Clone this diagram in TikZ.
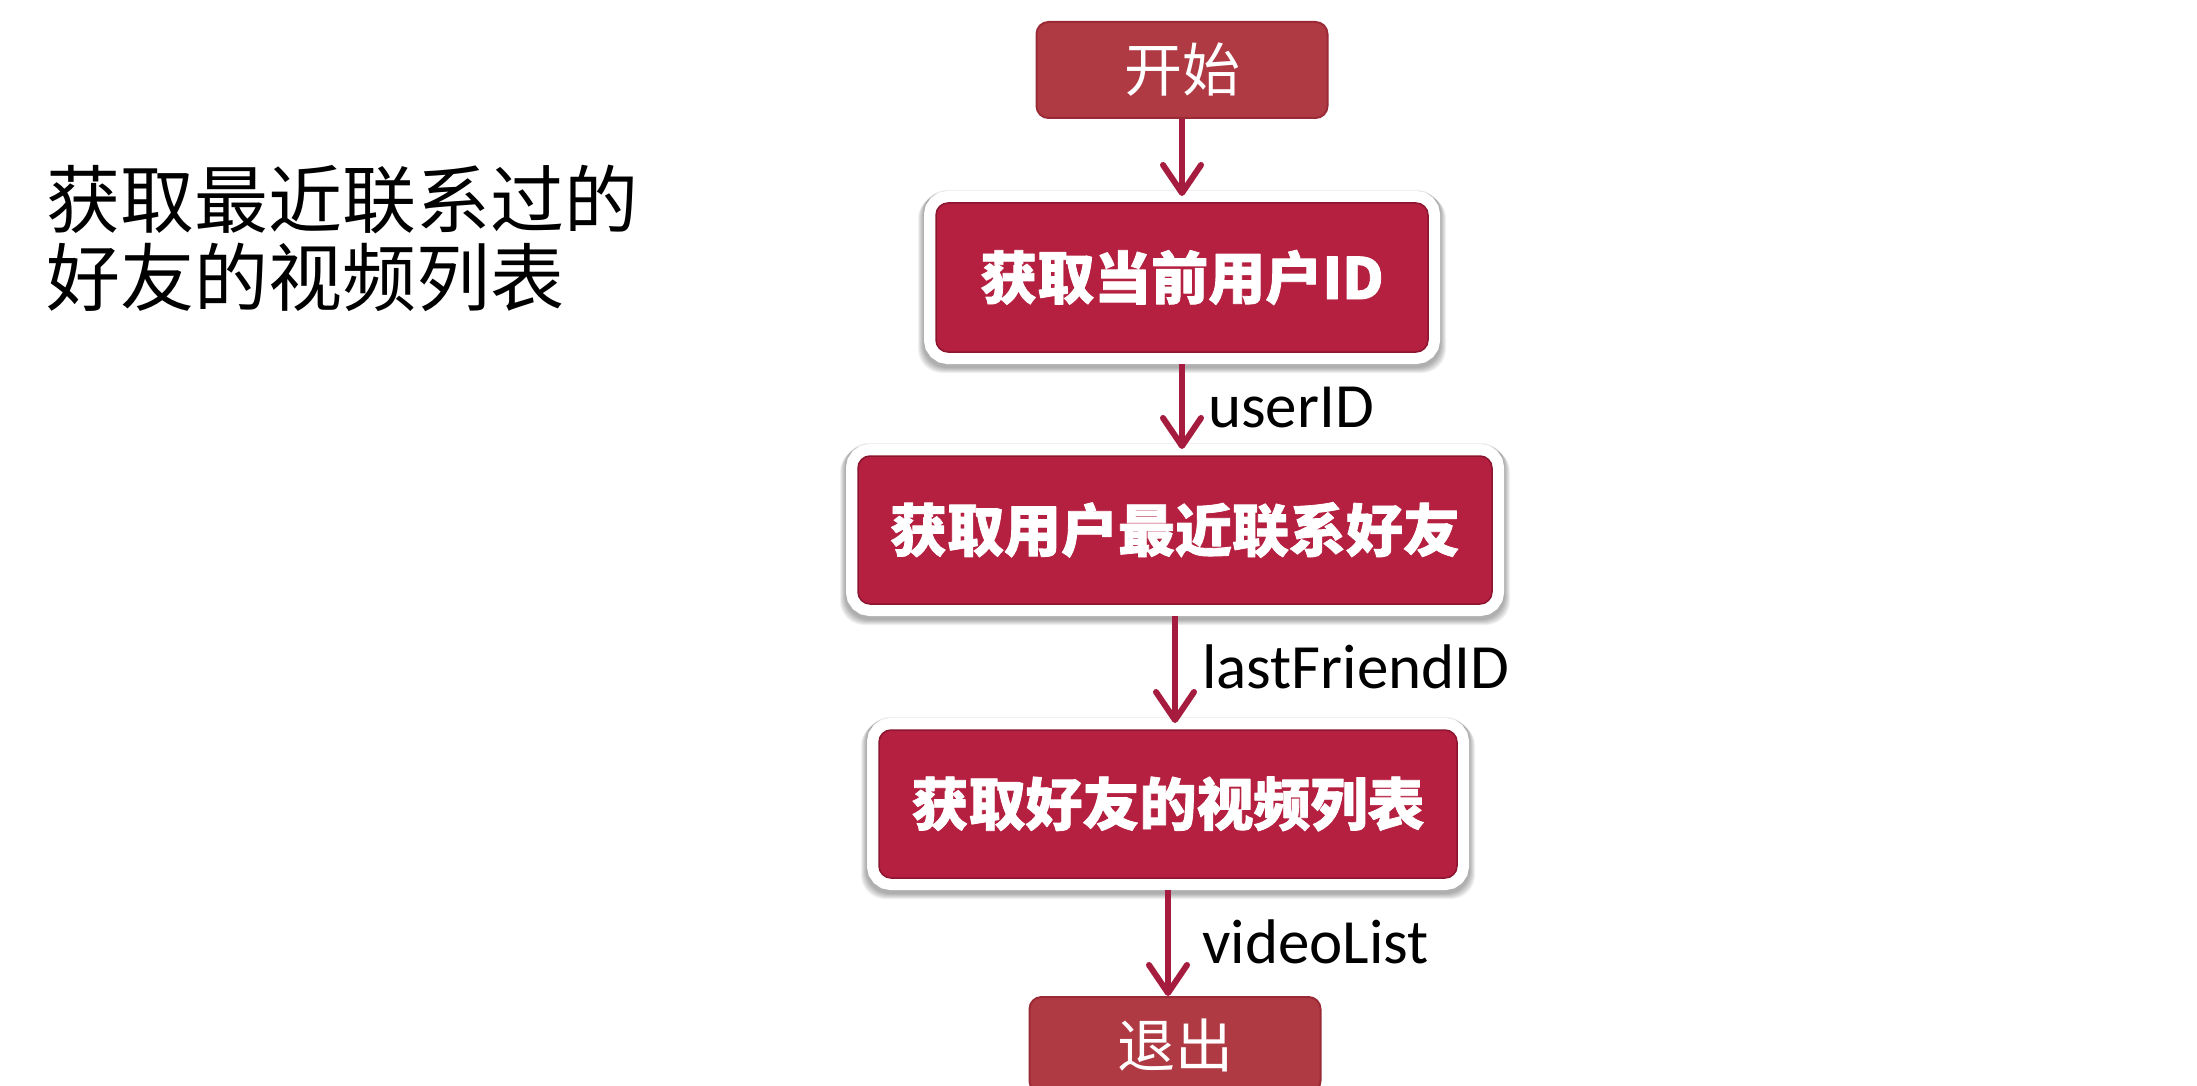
\documentclass[tikz,border=0pt]{standalone}
\usepackage{fontspec}
\setmainfont{Carlito}
\newfontfamily\cjk{Noto Sans CJK SC}
\usetikzlibrary{arrows.meta}
\definecolor{boxred}{HTML}{B51F40}
\definecolor{boxedge}{HTML}{8C1530}
\definecolor{endred}{HTML}{B03A44}
\definecolor{endedge}{HTML}{9A2B36}
\definecolor{arrred}{HTML}{A51C3F}
\pgfdeclarelayer{background}
\pgfsetlayers{background,main}
\newcommand\heavytext[1]{\special{pdf:literal direct 2 Tr 0.8 w 1 j 1 1 1 RG}#1\special{pdf:literal direct 0 Tr}}
\begin{document}
\begin{tikzpicture}[x=1pt,y=-1pt,
  endbox/.style={draw=endedge, line width=2pt, fill=endred, rounded corners=12pt,
    minimum width=291pt, minimum height=96pt, inner sep=0pt, text=white,
    font=\cjk\fontsize{58}{60}\selectfont},
  stepbox/.style={preaction={draw=white, line width=24pt}, draw=boxedge, line width=1.5pt,
    fill=boxred, rounded corners=12pt, outer sep=12pt,
    inner sep=0pt, text=white, font=\cjk\bfseries\fontsize{57}{60}\selectfont},
  flow/.style={draw=arrred, line width=6pt, line join=round,
    -{Straight Barb[length=28pt,width=38pt,round]}},
  lab/.style={anchor=west, inner sep=0pt, font=\fontsize{63}{66}\selectfont, text=black}
]
\useasboundingbox (0,0) rectangle (2197,1086);

\node[anchor=north west, inner sep=0pt, align=left, font=\cjk\fontsize{74}{78}\selectfont]
  (title) at (46,165) {获取最近联系过的\\好友的视频列表};

\node[endbox] (start) at (1182,70) {开始};
\node[stepbox, minimum width=492pt, minimum height=149pt] (b2) at (1182,277.5) {\heavytext{获取当前用户ID}};
\node[stepbox, minimum width=634pt, minimum height=148pt] (b3) at (1175,530) {\heavytext{获取用户最近联系好友}};
\node[stepbox, minimum width=578pt, minimum height=148pt] (b4) at (1168,804) {\heavytext{获取好友的视频列表}};
\node[endbox] (exit) at (1175,1045) {退出};

\begin{pgfonlayer}{background}
  \fill[white] (0,0) rectangle (2197,1086);
  \foreach \n in {b2,b3,b4}{
    \foreach \k in {1,...,6}{
      \fill[black, opacity=0.06, rounded corners=24pt]
        ([shift={(-\k,\k-2)}]\n.north west) rectangle ([shift={(\k,\k+3)}]\n.south east);
    }
  }
\end{pgfonlayer}

\draw[flow, shorten >=-5pt] (start.south) -- (start.south |- b2.north);
\draw[flow, shorten >=-5pt] (b2.south) -- (b2.south |- b3.north);
\draw[flow, shorten >=-5pt] (b3.south) -- (b3.south |- b4.north);
\draw[flow] (b4.south) -- (b4.south |- exit.north);

\node[lab] (l1) at (1208,408) {userID};
\node[lab] (l2) at (1202,667) {lastFriendID};
\node[lab] (l3) at (1202,942) {videoList};
\end{tikzpicture}
\end{document}
